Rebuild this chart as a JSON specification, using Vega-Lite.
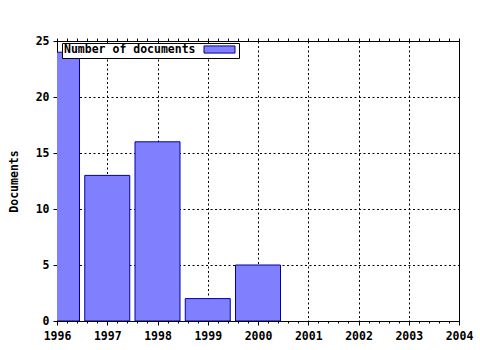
{
  "$schema": "https://vega.github.io/schema/vega-lite/v6.json",
  "autosize": "none",
  "padding": {"left": 57, "top": 41, "right": 21, "bottom": 29},
  "width": 402,
  "height": 280,
  "background": "white",
  "config": {
    "font": "DejaVu Sans Mono",
    "view": {"stroke": "black", "strokeWidth": 1},
    "axis": {
      "labelFont": "DejaVu Sans Mono", "labelFontWeight": "bold", "labelFontSize": 11.5, "labelColor": "black",
      "titleFont": "DejaVu Sans Mono", "titleFontWeight": "bold", "titleFontSize": 11.5, "titleColor": "black",
      "domainColor": "black", "tickColor": "black", "gridColor": "black", "gridDash": [2, 2.5], "gridOpacity": 1, "gridWidth": 1
    }
  },
  "data": {"values": [
    {"year": 1996, "count": 24},
    {"year": 1997, "count": 13},
    {"year": 1998, "count": 16},
    {"year": 1999, "count": 2},
    {"year": 2000, "count": 5}
  ]},
  "resolve": {"axis": {"x": "independent", "y": "independent"}},
  "layer": [
    {
      "mark": {"type": "bar", "size": 45, "stroke": "#0000a0", "strokeWidth": 1, "clip": true, "opacity": 1},
      "encoding": {
        "x": {"field": "year", "type": "quantitative",
          "scale": {"domain": [1996, 2004], "nice": false, "zero": false, "padding": 0},
          "axis": {"orient": "bottom", "title": null, "format": "d",
            "values": [1996, 1997, 1998, 1999, 2000, 2001, 2002, 2003, 2004],
            "tickSize": 4, "grid": true, "labelPadding": 5, "labelFlush": false, "labelOverlap": false}},
        "y": {"field": "count", "type": "quantitative",
          "scale": {"domain": [0, 25], "nice": false},
          "axis": {"orient": "left", "title": "Documents", "values": [0, 5, 10, 15, 20, 25], "tickSize": 4, "labelPadding": 4, "grid": true, "titlePadding": 16}},
        "fill": {"datum": "Number of documents", "type": "nominal",
          "scale": {"range": ["#8080ff"]},
          "legend": {"orient": "none", "legendX": 5, "legendY": 2, "title": "Number of documents",
            "titleOrient": "left", "titleFont": "DejaVu Sans Mono", "titleFontWeight": "bold", "titleFontSize": 11.5, "titleColor": "black", "titlePadding": 19, "titleBaseline": "middle",
            "labelExpr": "''", "labelOffset": 2, "labelFontSize": 1,
            "symbolType": "M-4,-0.92H4V0.92H-4Z", "symbolSize": 60, "symbolStrokeColor": "#0000a0", "symbolStrokeWidth": 1, "symbolOpacity": 1,
            "padding": 2, "strokeColor": "black", "fillColor": "white"}}
      }
    },
    {
      "mark": {"type": "point", "opacity": 0},
      "encoding": {
        "x": {"field": "year", "type": "quantitative",
          "axis": {"orient": "bottom", "title": null, "labels": false, "domain": false, "grid": false, "tickSize": 2,
            "values": [1996.2, 1996.4, 1996.6, 1996.8, 1997.2, 1997.4, 1997.6, 1997.8, 1998.2, 1998.4, 1998.6, 1998.8, 1999.2, 1999.4, 1999.6, 1999.8, 2000.2, 2000.4, 2000.6, 2000.8, 2001.2, 2001.4, 2001.6, 2001.8, 2002.2, 2002.4, 2002.6, 2002.8, 2003.2, 2003.4, 2003.6, 2003.8]}},
        "y": {"field": "count", "type": "quantitative", "axis": null}
      }
    },
    {
      "mark": {"type": "point", "opacity": 0},
      "encoding": {
        "x": {"field": "year", "type": "quantitative",
          "axis": {"orient": "top", "title": null, "labels": false, "domain": false, "grid": false, "tickSize": 3,
            "values": [1996, 1996.2, 1996.4, 1996.6, 1996.8, 1997, 1997.2, 1997.4, 1997.6, 1997.8, 1998, 1998.2, 1998.4, 1998.6, 1998.8, 1999, 1999.2, 1999.4, 1999.6, 1999.8, 2000, 2000.2, 2000.4, 2000.6, 2000.8, 2001, 2001.2, 2001.4, 2001.6, 2001.8, 2002, 2002.2, 2002.4, 2002.6, 2002.8, 2003, 2003.2, 2003.4, 2003.6, 2003.8, 2004]}},
        "y": {"field": "count", "type": "quantitative", "axis": null}
      }
    }
  ]
}
